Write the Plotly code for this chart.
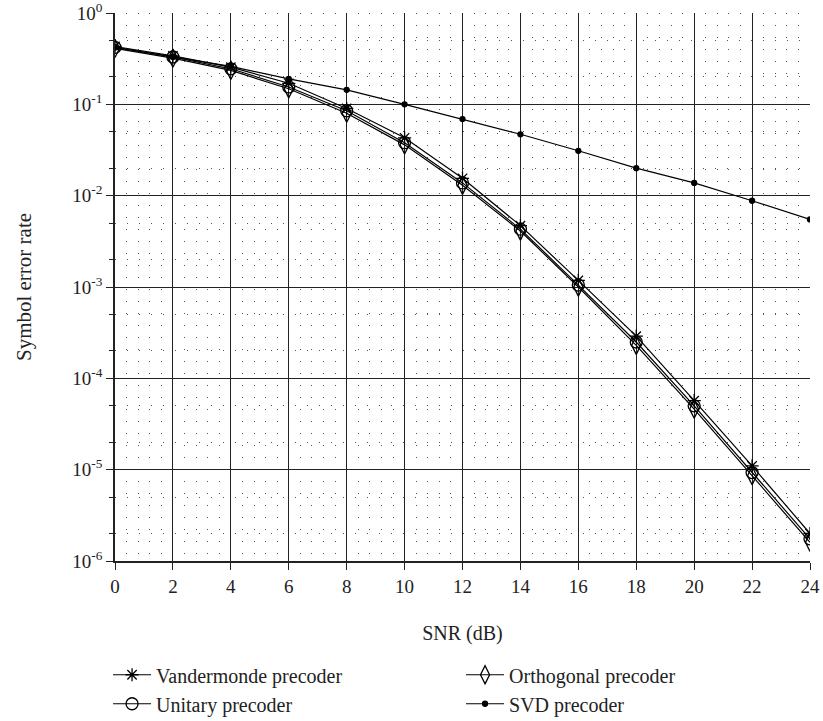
import plotly.graph_objects as go

snr = [0, 2, 4, 6, 8, 10, 12, 14, 16, 18, 20, 22, 24]
vandermonde = [0.43, 0.34, 0.255, 0.17, 0.09, 0.043, 0.0155, 0.0047, 0.00118, 0.00029, 5.7e-5, 1.1e-5, 2.0e-6]
unitary = [0.42, 0.33, 0.245, 0.155, 0.085, 0.038, 0.0138, 0.0043, 0.00105, 0.00025, 5.0e-5, 9.3e-6, 1.75e-6]
orthogonal = [0.41, 0.32, 0.235, 0.148, 0.080, 0.036, 0.013, 0.0041, 0.0010, 0.00023, 4.6e-5, 8.6e-6, 1.6e-6]
svd = [0.42, 0.33, 0.26, 0.19, 0.144, 0.10, 0.069, 0.047, 0.031, 0.020, 0.0138, 0.0088, 0.0055]

ytickvals = [1e0, 1e-1, 1e-2, 1e-3, 1e-4, 1e-5, 1e-6]
yticktext = ["10<sup>0</sup>", "10<sup>-1</sup>", "10<sup>-2</sup>", "10<sup>-3</sup>",
             "10<sup>-4</sup>", "10<sup>-5</sup>", "10<sup>-6</sup>"]

FONT = "Liberation Serif"
FS = 19
fig = go.Figure()

series = [
    ("Vandermonde precoder", vandermonde, "asterisk-open", 11),
    ("Orthogonal precoder", orthogonal, "diamond-tall-open", 13),
    ("Unitary precoder", unitary, "circle-open", 12),
    ("SVD precoder", svd, "circle", 5),
]
for name, vals, sym, size in series:
    fig.add_trace(go.Scatter(
        x=snr, y=vals, name=name, mode="lines+markers",
        line=dict(color="black", width=1.2),
        marker=dict(symbol=sym, size=size, color="black",
                    line=dict(color="black", width=1.3)),
    ))

fig.update_layout(
    width=823, height=721,
    margin=dict(l=115, r=13, t=13, b=160, autoexpand=False),
    plot_bgcolor="white", paper_bgcolor="white",
    font=dict(family=FONT, size=FS, color="#222"),
    showlegend=True,
    legend=dict(orientation="h", x=-0.01, xanchor="left",
                y=-0.172, yanchor="top",
                entrywidth=300, entrywidthmode="pixels",
                font=dict(family=FONT, size=20, color="#222"),
                tracegroupgap=0, itemwidth=38),
)

fig.update_xaxes(
    range=[0, 24], tickvals=snr, ticks="outside", ticklen=7, tickcolor="#222",
    showline=True, linecolor="#222", linewidth=1.5,
    showgrid=True, gridcolor="#222", gridwidth=1.2,
    zeroline=False,
    title=dict(text="SNR (dB)", font=dict(family=FONT, size=20), standoff=30),
    minor=dict(dtick=0.4, tick0=0, showgrid=True, gridcolor="#555", gridwidth=1,
               griddash="1px,11px", ticks=""),
)

fig.update_yaxes(
    type="log", range=[-6, 0], tickvals=ytickvals, ticktext=yticktext,
    ticks="outside", ticklen=7, tickcolor="#222", ticklabeloverflow="allow",
    showline=True, linecolor="#222", linewidth=1.5,
    showgrid=True, gridcolor="#222", gridwidth=1.2,
    zeroline=False,
    title=dict(text="Symbol error rate", font=dict(family=FONT, size=21), standoff=35),
    minor=dict(showgrid=True, gridcolor="#555", gridwidth=1,
               griddash="1px,11px", ticks="outside", ticklen=4, tickcolor="#222"),
)

fig.write_html("out.html")
